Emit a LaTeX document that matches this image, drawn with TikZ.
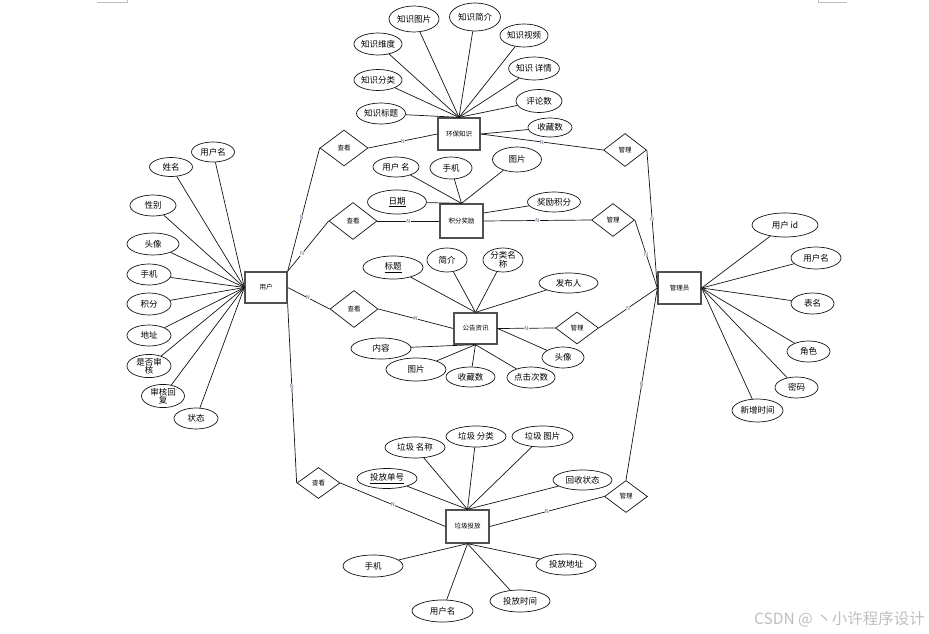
\documentclass[tikz,border=0pt]{standalone}
\usepackage{fontspec}
\setmainfont{Noto Sans CJK SC}
\usetikzlibrary{calc, shapes.geometric}
\definecolor{linecol}{RGB}{20, 20, 20}
\definecolor{boxcol}{RGB}{80, 80, 80}
\definecolor{ncol}{RGB}{105, 85, 125}
\definecolor{markcol}{RGB}{190, 190, 190}
\tikzset{
  ent/.style  = {draw=boxcol, line width=1.3pt, fill=white, inner sep=1pt,
                 minimum width=43pt, minimum height=32pt,
                 font=\fontsize{6.5}{7}\selectfont},
  rel/.style  = {draw=linecol, line width=0.7pt, diamond, fill=white,
                 inner sep=0pt, minimum width=43pt, minimum height=32pt,
                 font=\fontsize{6.5}{7}\selectfont},
  bigrel/.style = {rel, minimum width=48pt, minimum height=37pt},
  attr/.style = {draw=linecol, line width=0.7pt, ellipse, fill=white,
                 inner sep=0pt, align=center,
                 font=\fontsize{8.5}{8.5}\selectfont},
  link/.style = {draw=linecol, line width=0.7pt},
  card/.style = {font=\fontsize{5.5}{6}\selectfont, text=ncol, fill=white,
                 inner sep=0.3pt},
  cornermark/.style = {draw=markcol, line width=0.8pt},
}

\begin{document}
\begin{tikzpicture}[x=1pt, y=-1pt]
  \useasboundingbox (0,0) rectangle (929,634);

  %% ---------------- page corners ----------------
  \draw[cornermark] (97,2) -- (127,2) -- (127,0);
  \draw[cornermark] (847,2) -- (818,2) -- (818,0);

  %% ---------------- entities ----------------
  \node[ent, minimum width=42pt, minimum height=31pt] (user) at (266,287.5) {用户};
  \node[ent, minimum width=42pt] (zs) at (459,134) {环保知识};
  \node[ent, minimum height=34pt] (jf) at (461.5,221) {积分奖励};
  \node[ent, minimum height=31pt] (gg) at (475.5,328.5) {公告资讯};
  \node[ent, minimum height=33pt] (lj) at (467.5,526.5) {垃圾投放};
  \node[ent] (gl) at (679.5,288) {管理员};

  %% ---------------- relations ----------------
  \node[bigrel, minimum height=36pt] (ck1) at (344,148) {查看};
  \node[bigrel] (ck2) at (353,221) {查看};
  \node[bigrel] (ck3) at (354,309) {查看};
  \node[rel, minimum height=31pt] (ck4) at (318.5,483) {查看};
  \node[rel, minimum height=33pt] (gl1) at (625,150) {管理};
  \node[rel, minimum height=33pt] (gl2) at (613,220) {管理};
  \node[rel] (gl3) at (577,328) {管理};
  \node[rel] (gl4) at (626,496.5) {管理};

  %% ---------------- user side ----------------
  \draw[link] (user.north east) -- node[card, pos=0.44] {N} (ck1.west);
  \draw[link] (user.north east) -- node[card, pos=0.35] {N} (ck2.west);
  \draw[link] (user.east) -- node[card, pos=0.48] {N} (ck3.west);
  \draw[link] (user.south east) -- node[card, pos=0.46] {N} (ck4.west);

  \draw[link] (ck1.east) -- node[card] {N} (zs.west);
  \draw[link] (ck2.east) -- node[card] {N} (jf.west);
  \draw[link] (ck3.east) -- node[card] {N} (gg.west);
  \draw[link] (ck4.east) -- node[card] {N} (lj.west);

  %% ---------------- admin side ----------------
  \draw[link] (zs.east) -- node[card] {N} (gl1.west);
  \draw[link] (jf.east) -- node[card] {N} (gl2.west);
  \draw[link] (gg.east) -- node[card] {N} (gl3.west);
  \draw[link] (lj.east) -- node[card] {N} (gl4.west);

  \draw[link] (gl.west) -- node[card] {N} (gl1.east);
  \draw[link] (gl.west) -- node[card] {N} (gl2.east);
  \draw[link] (gl.west) -- node[card] {N} (gl3.east);
  \draw[link] (gl.west) -- node[card] {N} (gl4.north);

  %% ---------------- attributes ----------------
  \foreach \i/\x/\y/\w/\h/\t in {1/213/152/43/20/用户名, 2/171/167/43/19/姓名,
      3/153/205.5/46/21/性别, 4/153/244/52/22/头像, 5/149/274.5/44/21/手机,
      6/149/304/44/22/积分, 7/149/335.5/44/21/地址,
      8/149/366/44/22/{是否审\\核}, 9/163/396/43/22/{审核回\\复},
      10/196/418.5/44/21/状态} {
    \node[attr, minimum width=\w pt, minimum height=\h pt] (u\i) at (\x,\y) {\t};
    \draw[link] (u\i) -- (user.west);
  }

  \foreach \i/\x/\y/\w/\h/\t/\a in {1/414/19/50/26/知识图片/north,
      2/475/17/51/28/知识简介/north, 3/524/35.5/46/23/知识视频/north,
      4/378/44/47/22/知识维度/north, 5/534/68.5/40/23/知识 详情/north,
      6/378/80/47/21/知识分类/north, 7/539/101/46/23/评论数/north,
      8/381/113.5/49/21/知识标题/north, 9/550/127.5/44/19/收藏数/east} {
    \node[attr, minimum width=\w pt, minimum height=\h pt] (z\i) at (\x,\y) {\t};
    \draw[link] (z\i) -- (zs.\a);
  }

  \foreach \i/\x/\y/\w/\h/\t/\a in {1/396/167/46/20/用户 名/north,
      2/451/168/42/22/手机/north, 3/517/159.5/49/25/图片/north,
      4/397/202/59/24/{\underline{日期}}/north, 5/554/202/53/20/奖励积分/20} {
    \node[attr, minimum width=\w pt, minimum height=\h pt] (j\i) at (\x,\y) {\t};
    \draw[link] (j\i) -- (jf.\a);
  }

  \foreach \i/\x/\y/\w/\h/\t/\a in {1/393/267.5/60/23/{\underline{标题}}/north,
      2/447/260/40/24/简介/north, 3/503/260/40/24/{分类名\\称}/north,
      4/568.5/283/59/20/发布人/north, 5/381/348.5/60/21/内容/south,
      6/416/369.5/60/23/图片/south, 7/470.5/377/49/20/收藏数/south,
      8/531/377.5/48/21/点击次数/south, 9/563/357.5/42/21/头像/east} {
    \node[attr, minimum width=\w pt, minimum height=\h pt] (g\i) at (\x,\y) {\t};
    \draw[link] (g\i) -- (gg.\a);
  }

  \foreach \i/\x/\y/\w/\h/\t/\a in {1/387/478.5/60/20/{\underline{投放单号}}/north,
      2/415/447.5/60/21/垃圾 名称/north, 3/476/436.5/60/21/垃圾 分类/north,
      4/542.5/436.5/61/21/垃圾 图片/north, 5/582.5/480/59/20/回收状态/north,
      6/373/566/60/22/手机/south, 7/442.5/611/61/22/用户名/south,
      8/520/601/60/22/投放时间/south, 9/566/564.5/60/21/投放地址/south} {
    \node[attr, minimum width=\w pt, minimum height=\h pt] (l\i) at (\x,\y) {\t};
    \draw[link] (l\i) -- (lj.\a);
  }

  \foreach \i/\x/\y/\w/\h/\t in {1/785/225/66/24/用户 id, 2/816/258/50/22/用户名,
      3/812.5/303.5/43/21/表名, 4/808.5/351.5/43/21/角色,
      5/796.5/387.5/43/21/密码, 6/757.5/410.5/51/23/新增时间} {
    \node[attr, minimum width=\w pt, minimum height=\h pt] (a\i) at (\x,\y) {\t};
    \draw[link] (a\i) -- (gl.east);
  }

  %% ---------------- watermark ----------------
  \node[font=\fontsize{15.5}{16}\selectfont, text=markcol, anchor=east, inner sep=0pt]
       (wm) at (925,619) {CSDN @ 丶小许程序设计};

\end{tikzpicture}
\end{document}
